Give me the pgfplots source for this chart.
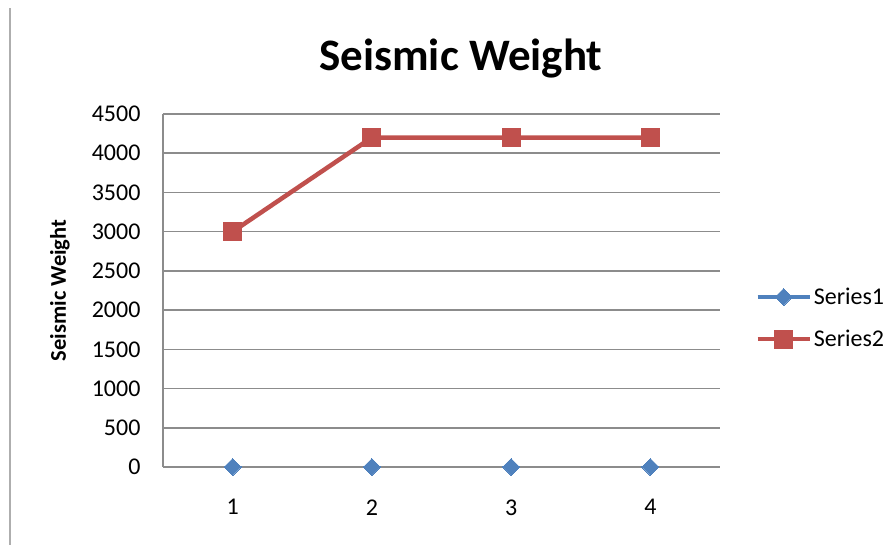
\documentclass[border=0pt]{standalone}
\usepackage{fontspec}
\setmainfont{Carlito}
\usepackage{pgfplots}
\pgfplotsset{compat=1.18}

\definecolor{sone}{HTML}{4F81BD}
\definecolor{stwo}{HTML}{C0504D}
\definecolor{gridg}{HTML}{8C8C8C}

\begin{document}
\begin{tikzpicture}
\path[use as bounding box] (0,0) rectangle (889pt,545pt);
\draw[gridg!70, line width=1.5pt] (10pt,0pt) -- (10pt,537pt);
\begin{axis}[
  at={(163pt,78pt)}, anchor=south west,
  scale only axis,
  width=557pt, height=353pt,
  xmin=0.5, xmax=4.5,
  ymin=0, ymax=4500,
  xtick={1,2,3,4},
  ytick={0,500,...,4500},
  axis lines*=left,
  axis line style={gridg, line width=1.8pt},
  major tick length=0pt,
  ymajorgrids=true,
  grid style={gridg, line width=1.5pt},
  clip=false,
  /pgf/number format/assume math mode=true,
  /pgf/number format/1000 sep={},
  tick label style={font=\fontsize{24}{28}\selectfont},
  yticklabel style={xshift=-19pt},
  xticklabel style={yshift=-29pt},
  title={Seismic Weight},
  title style={font=\fontsize{45}{52}\bfseries, at={(axis description cs:0.535,1.14)}, anchor=center},
  ylabel={Seismic Weight},
  ylabel style={font=\fontsize{22.5}{26}\bfseries\selectfont, at={(axis description cs:-0.185,0.5)}, anchor=center},
  legend style={at={(axis description cs:1.063,0.422)}, anchor=west, draw=none, fill=none,
    font=\fontsize{24}{28}\selectfont, row sep=20pt, inner sep=0pt},
  legend cell align=left,
  legend image code/.code={\draw[mark repeat=2,mark phase=2] plot coordinates {(0pt,0pt) (26pt,0pt) (52pt,0pt)};},
]
\addplot[forget plot, only marks, color=sone, mark=square*, mark size=6pt, mark options={rotate=45, line width=0pt, fill=sone}] coordinates {
  (1,0) (2,0) (3,0) (4,0)
};
\addlegendimage{color=sone, line width=4.5pt, mark=square*, mark size=6pt, mark options={rotate=45, line width=0pt, fill=sone}}
\addlegendentry{Series1}
\addplot[color=stwo, line width=4.5pt, mark=square*, mark size=9pt, mark options={line width=0pt, fill=stwo}] coordinates {
  (1,3000) (2,4200) (3,4200) (4,4200)
};
\addlegendentry{Series2}
\end{axis}
\end{tikzpicture}
\end{document}
